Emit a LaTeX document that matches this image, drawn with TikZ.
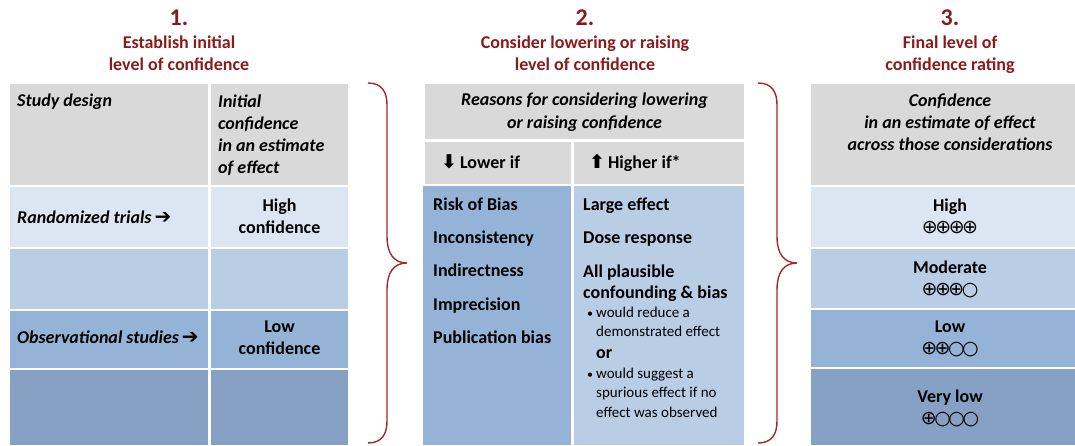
\documentclass[tikz,border=0pt]{standalone}
\usepackage{fontspec}
\setmainfont{Carlito}
\newfontfamily\symfont{DejaVu Sans}
\usetikzlibrary{positioning}

\definecolor{titlered}{RGB}{139,26,26}
\definecolor{bracered}{RGB}{165,40,40}
\definecolor{headgray}{RGB}{217,217,217}
\definecolor{blueA}{RGB}{220,230,242}
\definecolor{blueB}{RGB}{185,205,229}
\definecolor{blueC}{RGB}{149,179,215}
\definecolor{blueD}{RGB}{134,161,195}

\newcommand{\fs}[2]{\fontsize{#1}{#2}\selectfont}
\newcommand{\rarr}{{\symfont\bfseries\fs{20}{20}➔}}
\newcommand{\good}{⊕}
\newcommand{\nogood}{○}
\newcommand{\rate}[4]{{\symfont\mdseries\fs{19}{22}#1\kern-2.5pt#2\kern-2.5pt#3\kern-2.5pt#4}}

\begin{document}
\begin{tikzpicture}[
    x=1pt, y=-1pt,
    cell/.style={rectangle,inner sep=0pt,outer sep=0pt,anchor=north west},
    txt/.style={inner sep=0pt,font=\fs{18}{22}\bfseries},
    itxt/.style={inner sep=0pt,font=\fs{18}{22}\bfseries\itshape},
    small/.style={inner sep=0pt,font=\fs{15}{19.5}},
    title/.style={inner sep=0pt,text=titlered,align=center,font=\fs{18}{22}\bfseries},
    number/.style={inner sep=0pt,text=titlered,font=\fs{24}{24}\bfseries},
    rating/.style={inner sep=0pt,align=center,font=\fs{18}{22}\bfseries},
    brace/.style={draw=bracered,line width=1.4pt},
]
\useasboundingbox (0,0) rectangle (1075,445);

%% Step 1: initial level of confidence
\node[number,anchor=base] (n1) at (179,25) {1.};
\node[title,anchor=north] (s1) at ([shift={(0,10.4)}]n1.base) {Establish initial\\level of confidence};

\node[cell,fill=headgray,minimum width=198,minimum height=101] (h1a) at (10,84) {};
\node[cell,fill=headgray,minimum width=137,minimum height=101] (h1b) at (211,84) {};
\node[cell,fill=blueA,minimum width=198,minimum height=60] (r1a) at (10,187) {};
\node[cell,fill=blueA,minimum width=137,minimum height=60] (r1b) at (211,187) {};
\node[cell,fill=blueB,minimum width=198,minimum height=60] (r2a) at (10,249) {};
\node[cell,fill=blueB,minimum width=137,minimum height=60] (r2b) at (211,249) {};
\node[cell,fill=blueC,minimum width=198,minimum height=57] (r3a) at (10,311) {};
\node[cell,fill=blueC,minimum width=137,minimum height=57] (r3b) at (211,311) {};
\node[cell,fill=blueD,minimum width=198,minimum height=75] (r4a) at (10,370) {};
\node[cell,fill=blueD,minimum width=137,minimum height=75] (r4b) at (211,370) {};

\node[itxt,anchor=base west] (design) at ([shift={(7,22)}]h1a.north west) {Study design};
\node[itxt,anchor=north west,align=left] (initial) at ([shift={(7,10.5)}]h1b.north west)
    {Initial\\confidence\\in an estimate\\of effect};
\node[itxt,anchor=base west] (rct) at ([shift={(7,36)}]r1a.north west) {Randomized trials\,\rarr};
\node[txt,anchor=north,align=center] (high1) at ([shift={(0,11.5)}]r1b.north) {High\\confidence};
\node[itxt,anchor=base west] (obs) at ([shift={(7,32)}]r3a.north west) {Observational studies\,\rarr};
\node[txt,anchor=north,align=center] (low1) at ([shift={(0,9.5)}]r3b.north) {Low\\confidence};

%% Step 2: reasons for lowering or raising
\node[number,anchor=base] (n2) at (585,25) {2.};
\node[title,anchor=north] (s2) at ([shift={(0,10.4)}]n2.base) {Consider lowering or raising\\level of confidence};

\node[cell,fill=headgray,minimum width=319,minimum height=55] (t2h) at (425,84) {};
\node[cell,fill=headgray,minimum width=146,minimum height=42] (t2l) at (425,142) {};
\node[cell,fill=headgray,minimum width=170,minimum height=42] (t2r) at (574,142) {};
\node[cell,fill=blueC,minimum width=148,minimum height=259] (t2bl) at (423,186) {};
\node[cell,fill=blueB,minimum width=170,minimum height=259] (t2br) at (574,186) {};

\node[itxt,anchor=north,align=center,font=\fs{18}{23}\bfseries\itshape] (reasons) at ([shift={(0,8.5)}]t2h.north)
    {Reasons for considering lowering\\or raising confidence};
\node[txt,anchor=base west] (lower) at ([shift={(16,26)}]t2l.north west) {{\symfont\fs{19}{19}⬇}\,Lower if};
\node[txt,anchor=base west] (higher) at ([shift={(15,26)}]t2r.north west) {{\symfont\fs{19}{19}⬆}\,Higher if*};

% lower if
\node[txt,anchor=north west,align=left,font=\fs{18}{33.3}\bfseries] (downlist) at ([shift={(10,11.5)}]t2bl.north west)
    {Risk of Bias\\Inconsistency\\Indirectness\\Imprecision\\Publication bias};

% higher if
\node[txt,anchor=base west] (large) at ([shift={(9,24)}]t2br.north west) {Large effect};
\node[txt,anchor=base west] (dose) at ([shift={(0,33)}]large.base west) {Dose response};
\node[txt,anchor=base west] (plaus) at ([shift={(0,34)}]dose.base west) {All plausible};
\node[txt,anchor=base west] (conf) at ([shift={(0,21)}]plaus.base west) {confounding \& bias};
\node[small,anchor=base west,font=\fs{12}{12}] (dot1) at ([shift={(4,19)}]conf.base west) {•};
\node[small,anchor=north west,align=left] (reduce) at ([shift={(9,-10.5)}]dot1.base west)
    {would reduce a\\demonstrated effect};
\node[txt,anchor=base west] (or) at ([shift={(9,41)}]dot1.base west) {or};
\node[small,anchor=base west,font=\fs{12}{12}] (dot2) at ([shift={(0,61)}]dot1.base west) {•};
\node[small,anchor=north west,align=left] (suggest) at ([shift={(9,-10.5)}]dot2.base west)
    {would suggest a\\spurious effect if no\\effect was observed};

%% Step 3: final rating
\node[number,anchor=base] (n3) at (950,25) {3.};
\node[title,anchor=north] (s3) at ([shift={(0,10.4)}]n3.base) {Final level of\\confidence rating};

\node[cell,fill=headgray,minimum width=264,minimum height=101] (t3h) at (811,84) {};
\node[cell,fill=blueA,minimum width=264,minimum height=60] (t3r1) at (811,187) {};
\node[cell,fill=blueB,minimum width=264,minimum height=59] (t3r2) at (811,249) {};
\node[cell,fill=blueC,minimum width=264,minimum height=57] (t3r3) at (811,310) {};
\node[cell,fill=blueD,minimum width=264,minimum height=76] (t3r4) at (811,369) {};

\node[itxt,anchor=north,align=center] (final) at ([shift={(7,9.5)}]t3h.north)
    {Confidence\\in an estimate of effect\\across those considerations};
\node[rating,anchor=north] (high) at ([shift={(7,11.5)}]t3r1.north)
    {High\\\rate{\good}{\good}{\good}{\good}};
\node[rating,anchor=north] (moderate) at ([shift={(7,11.5)}]t3r2.north)
    {Moderate\\\rate{\good}{\good}{\good}{\nogood}};
\node[rating,anchor=north] (low) at ([shift={(7,10.5)}]t3r3.north)
    {Low\\\rate{\good}{\good}{\nogood}{\nogood}};
\node[rating,anchor=north] (verylow) at ([shift={(7,20.5)}]t3r4.north)
    {Very low\\\rate{\good}{\nogood}{\nogood}{\nogood}};

%% Braces between the steps
\foreach \bx in {368,758}{
    \draw[brace] (\bx,83) .. controls (\bx+14,83) and (\bx+19,92) .. (\bx+19,105)
        -- (\bx+19,236) .. controls (\bx+19,254) and (\bx+26,263) .. (\bx+39,263)
        .. controls (\bx+26,263) and (\bx+19,272) .. (\bx+19,290)
        -- (\bx+19,421) .. controls (\bx+19,434) and (\bx+14,443) .. (\bx,443);
}
\end{tikzpicture}
\end{document}
